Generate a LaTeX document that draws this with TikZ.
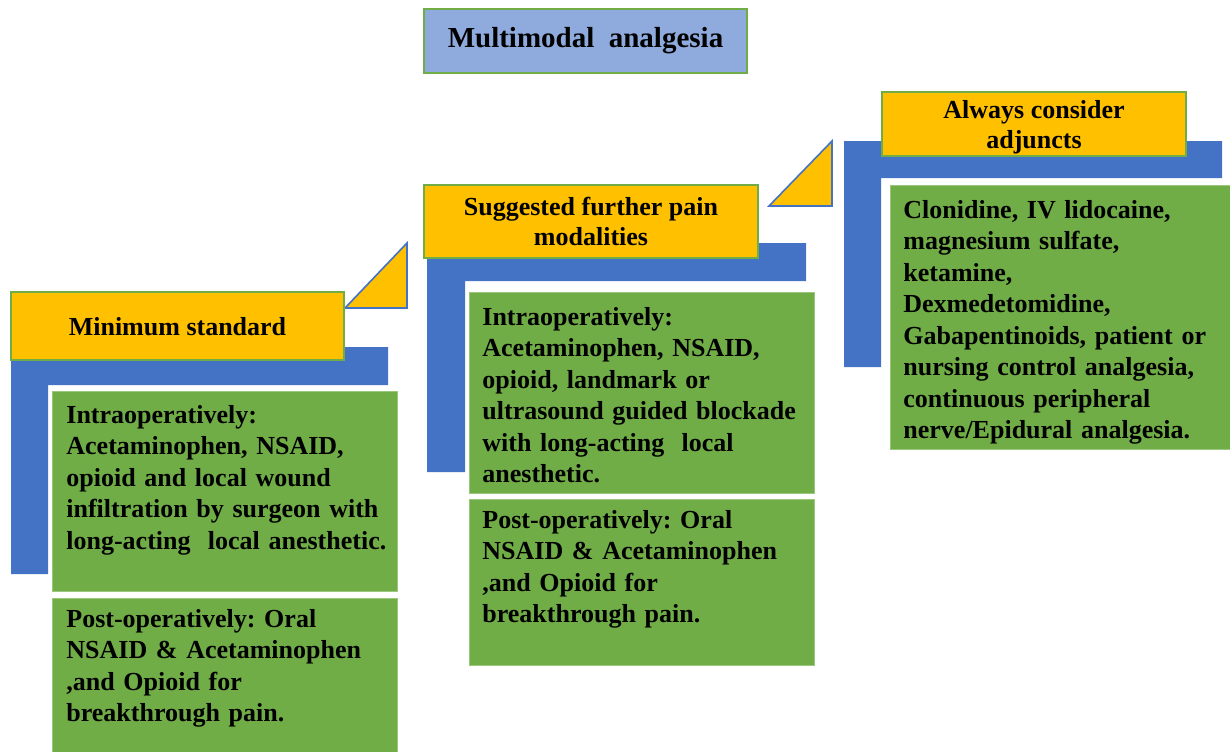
\documentclass[tikz,border=0pt]{standalone}
\usepackage{fontspec}
\setmainfont{Liberation Serif}
\frenchspacing
\definecolor{gold}{HTML}{FFC000}
\definecolor{barblue}{HTML}{4472C4}
\definecolor{leaf}{HTML}{70AD47}
\definecolor{sky}{HTML}{8FAADC}
\tikzset{
  titlebox/.style={draw=leaf, line width=0.8pt, fill=sky, inner sep=0pt, font=\fontsize{14.5}{17}\selectfont\bfseries},
  headbox/.style={draw=leaf, line width=0.8pt, fill=gold, inner sep=0pt, text depth=0pt, align=center, font=\fontsize{13}{15}\selectfont\bfseries},
  greenbox/.style={draw=leaf!70!white, line width=0.5pt, fill=leaf, anchor=north west, inner sep=0pt},
  bodytext/.style={anchor=base west, inner sep=0pt, text width=170pt, align=left, font=\fontsize{13}{15.75}\selectfont\bfseries\frenchspacing},
  stepbar/.style={fill=barblue},
  steptri/.style={draw=barblue, line width=0.8pt, fill=gold, line join=miter}
}
\begin{document}
\begin{tikzpicture}[x=0.5pt, y=-0.5pt]
        \useasboundingbox (0,0) rectangle (1230,751);

        \node[titlebox, minimum width=161.5pt, minimum height=32pt] (title) at (585.5,41) {Multimodal~ analgesia};

        \fill[stepbar] (11,347) -- (388,347) -- (388,385) -- (48,385) -- (48,574) -- (11,574) -- cycle;
        \fill[stepbar] (427,243) -- (806,243) -- (806,281) -- (465,281) -- (465,472) -- (427,472) -- cycle;
        \fill[stepbar] (844,141) -- (1222,141) -- (1222,178) -- (881,178) -- (881,367) -- (844,367) -- cycle;

        \draw[steptri] (345,308) -- (407,243) -- (407,308) -- cycle;
        \draw[steptri] (769,206) -- (832,141) -- (832,206) -- cycle;

        \node[headbox, minimum width=166.5pt, minimum height=34pt] (h1) at (177.5,326) {Minimum standard};
        \node[headbox, minimum width=167pt, minimum height=36.5pt] (h2) at (591,221.5) {Suggested further pain\\modalities};
        \node[headbox, minimum width=152pt, minimum height=32pt] (h3) at (1034,124) {Always consider\\adjuncts};

        \node[greenbox, minimum width=172.5pt, minimum height=100pt] (g1) at (52,391) {};
        \node[greenbox, minimum width=172.5pt, minimum height=77pt] (p1) at (52,598) {};
        \node[greenbox, minimum width=172.5pt, minimum height=100.5pt] (g2) at (469,292) {};
        \node[greenbox, minimum width=172.5pt, minimum height=83pt] (p2) at (469,499) {};
        \node[greenbox, minimum width=170pt, minimum height=132pt] (g3) at (890,185) {};

        \node[bodytext] (g1t) at (66,423) {Intraoperatively:\\Acetaminophen, NSAID,\\opioid and local wound\\infiltration by surgeon with\\long-acting~ local anesthetic.};
        \node[bodytext] (p1t) at (66,627) {Post-operatively: Oral\\NSAID \& Acetaminophen\\,and Opioid for\\breakthrough pain.};
        \node[bodytext] (g2t) at (482,325) {Intraoperatively:\\Acetaminophen, NSAID,\\opioid, landmark or\\ultrasound guided blockade\\with long-acting~ local\\anesthetic.};
        \node[bodytext] (p2t) at (482,528) {Post-operatively: Oral\\NSAID \& Acetaminophen\\,and Opioid for\\breakthrough pain.};
        \node[bodytext] (g3t) at (903,218) {Clonidine, IV lidocaine,\\magnesium sulfate,\\ketamine,\\Dexmedetomidine,\\Gabapentinoids, patient or\\nursing control analgesia,\\continuous peripheral\\nerve/Epidural analgesia.};
\end{tikzpicture}
\end{document}
